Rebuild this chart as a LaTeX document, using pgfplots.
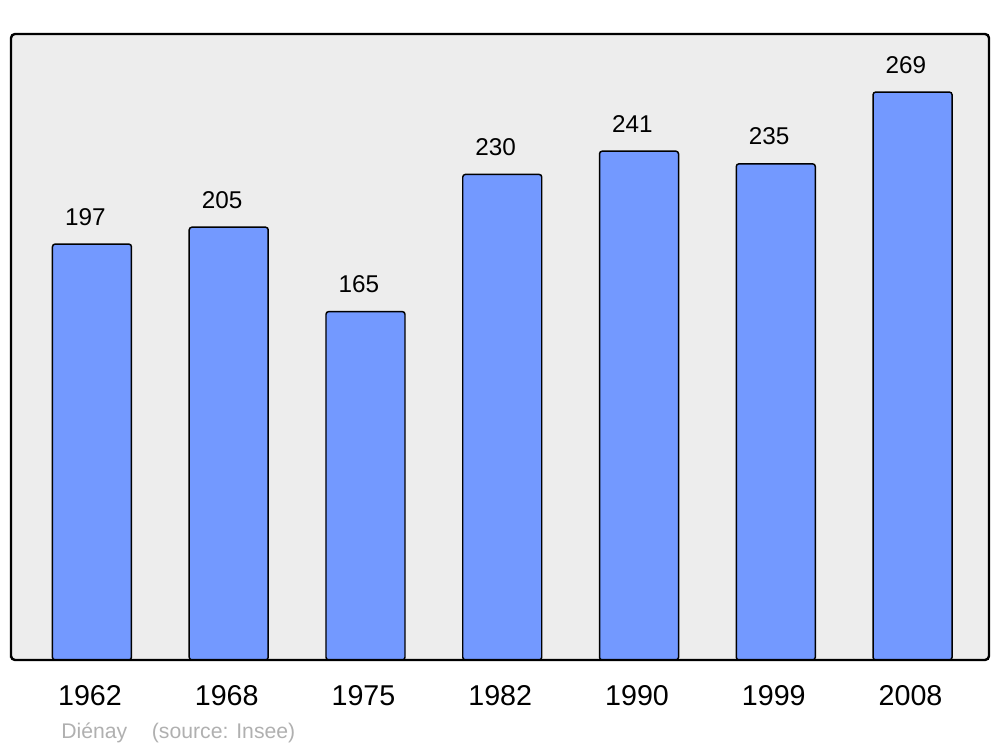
\documentclass[border=0pt]{standalone}
\usepackage{pgfplots}
\pgfplotsset{compat=1.18}
\usepackage{fontspec}
\setmainfont{Liberation Sans}
\definecolor{barblue}{RGB}{115,153,255}
\definecolor{bggray}{RGB}{237,237,237}
\definecolor{srcgray}{RGB}{176,176,176}
\begin{document}
\begin{tikzpicture}
\path[use as bounding box] (-8.25pt,-65.25pt) rectangle (741.75pt,495pt);
\begin{axis}[
  at={(0,0)}, anchor=south west,
  scale only axis,
  width=733.5pt, height=469.5pt,
  xmin=-0.592, xmax=6.559,
  ymin=0, ymax=296.5,
  axis on top,
  axis background/.style={fill=bggray, rounded corners=3pt},
  axis line style={line width=1.8pt, rounded corners=3pt},
  ytick=\empty,
  xtick={0,1,2,3,4,5,6},
  xticklabels={1962,1968,1975,1982,1990,1999,2008},
  major tick length=0pt,
  xticklabel style={anchor=base, yshift=-33.75pt, xshift=-1.5pt, font=\fontsize{21.5}{25}\selectfont},
  /pgf/number format/assume math mode=true,
  ybar, bar width=59.25pt,
  nodes near coords,
  nodes near coords style={anchor=base, yshift=14.25pt, xshift=-5pt, font=\fontsize{18.2}{22}\selectfont, text=black},
  clip=false,
]
\addplot[fill=barblue, draw=black, line width=1.1pt, rounded corners=2pt] coordinates {
  (0,197) (1,205) (2,165) (3,230) (4,241) (5,235) (6,269)
};
\end{axis}
\node[anchor=base west, inner sep=0pt, text=srcgray, font=\fontsize{15.9}{19}\selectfont] at (37.5pt,-58.5pt) {Diénay};
\node[anchor=base west, inner sep=0pt, text=srcgray, font=\fontsize{15.9}{19}\selectfont] at (105.5pt,-58.5pt) {(source: Insee)};
\end{tikzpicture}
\end{document}
